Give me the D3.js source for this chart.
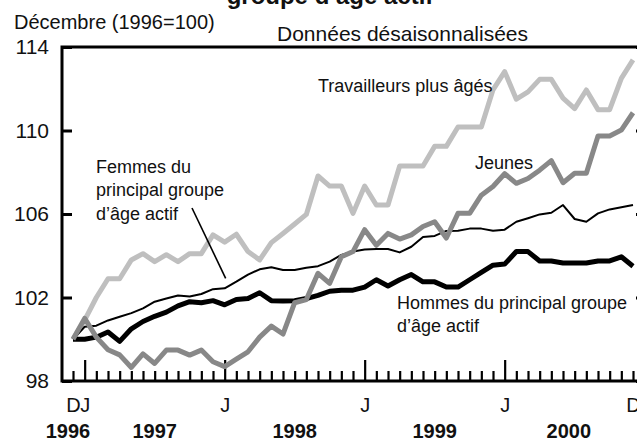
<!DOCTYPE html>
<html>
<head>
<meta charset="utf-8">
<script src="https://cdn.jsdelivr.net/npm/d3@7/dist/d3.min.js"></script>
<style>
  html, body { margin: 0; padding: 0; background: #fff; }
  svg { display: block; font-family: "Liberation Sans", Arial, sans-serif; }
</style>
</head>
<body>
<svg id="chart" width="637" height="441"></svg>
<script>
// indices, décembre 1996 = 100, données désaisonnalisées (déc. 1996 à déc. 2000)
const travailleurs = [100, 100.92, 102.0, 102.9, 102.9, 103.8, 104.1, 103.72, 104.05, 103.72, 104.1, 104.1, 105.0,
  104.65, 105.03, 104.2, 103.8, 104.63, 105.07, 105.52, 105.98, 107.82, 107.34, 107.34, 106.03,
  107.34, 106.43, 106.43, 108.3, 108.3, 108.3, 109.24, 109.24, 110.17, 110.17, 110.17, 111.95,
  112.82, 111.5, 111.85, 112.45, 112.45, 111.55, 111.05, 111.94, 111.0, 111.0, 112.5, 113.38]
const jeunes = [100, 101.0, 100.1, 99.5, 99.25, 98.65, 99.3, 98.84, 99.48, 99.48, 99.24, 99.48, 98.92,
  98.69, 99.05, 99.4, 100.1, 100.63, 100.25, 101.75, 101.9, 103.16, 102.68, 103.95, 104.2,
  105.25, 104.5, 105.07, 104.8, 105.0, 105.4, 105.63, 104.85, 106.03, 106.03, 106.9, 107.32,
  107.93, 107.47, 107.7, 108.1, 108.56, 107.5, 107.95, 107.95, 109.74, 109.74, 110.02, 110.85]
const femmes = [100.0, 100.6, 100.65, 100.9, 101.08, 101.25, 101.48, 101.8, 101.95, 102.1, 102.05, 102.17, 102.4,
  102.44, 102.76, 103.1, 103.35, 103.45, 103.32, 103.32, 103.43, 103.5, 103.72, 104.04, 104.2,
  104.3, 104.32, 104.32, 104.16, 104.43, 104.9, 104.95, 105.19, 105.2, 105.3, 105.3, 105.2,
  105.25, 105.63, 105.8, 105.98, 106.06, 106.43, 105.76, 105.63, 106.03, 106.22, 106.32, 106.43]
const hommes = [100.0, 100.0, 100.1, 100.35, 99.9, 100.5, 100.85, 101.1, 101.3, 101.6, 101.8, 101.75, 101.85,
  101.65, 101.9, 101.95, 102.23, 101.85, 101.83, 101.85, 101.95, 102.1, 102.3, 102.35, 102.35,
  102.5, 102.85, 102.55, 102.85, 103.1, 102.75, 102.75, 102.5, 102.5, 102.85, 103.2, 103.55,
  103.6, 104.2, 104.2, 103.75, 103.75, 103.65, 103.65, 103.65, 103.75, 103.75, 103.95, 103.5]

const months = d3.utcMonth.range(new Date(Date.UTC(1996, 11, 1)), new Date(Date.UTC(2001, 0, 1)))
const yTicks = [98, 102, 106, 110, 114]
const years = ['1996', '1997', '1998', '1999', '2000']

const svg = d3.select('#chart')
const plotL = 62, plotR = 646, plotT = 47, plotB = 381

const x = d3.scalePoint().domain(months.map(d => +d)).range([73, 633])
const y = d3.scaleLinear().domain([98, 114]).range([plotB, plotT])

// titres
svg.append('text').attr('x', 330).attr('y', 3.5).attr('text-anchor', 'middle')
  .attr('font-size', 24).attr('font-weight', 'bold').attr('fill', '#111')
  .text('groupe d\u2019âge actif')
svg.append('text').attr('x', 14).attr('y', 29).attr('font-size', 20).attr('fill', '#111')
  .text('Décembre (1996=100)')
svg.append('text').attr('x', 277).attr('y', 41).attr('font-size', 21).attr('fill', '#111')
  .text('Données désaisonnalisées')

// axe y : étiquettes et graduations intérieures
svg.append('g').attr('transform', `translate(${plotL},0)`)
  .call(d3.axisLeft(y).tickValues(yTicks).tickSize(0).tickPadding(13))
  .call(g => g.select('.domain').remove())
  .selectAll('text').attr('font-size', 21).attr('fill', '#111')
  .attr('font-family', '"Liberation Sans", Arial, sans-serif')
svg.append('g').attr('transform', `translate(${plotL},0)`)
  .call(d3.axisRight(y).tickValues(yTicks).tickSize(10).tickFormat(''))
  .call(g => g.select('.domain').remove())
  .selectAll('line').attr('stroke', '#000').attr('stroke-width', 3)
svg.append('g').attr('transform', `translate(${plotR},0)`)
  .call(d3.axisLeft(y).tickValues(yTicks).tickSize(10).tickFormat(''))
  .call(g => g.select('.domain').remove())
  .selectAll('line').attr('stroke', '#000').attr('stroke-width', 3)

// axe x : graduations mensuelles, janvier plus long
svg.append('g').attr('transform', `translate(0,${plotB})`)
  .call(d3.axisTop(x).tickSize(10).tickFormat(''))
  .call(g => g.select('.domain').remove())
  .selectAll('.tick line')
  .attr('stroke', '#000').attr('stroke-width', 2.2)
  .attr('y2', d => new Date(d).getUTCMonth() === 0 ? -21 : -10)

const labelMonths = months.filter((d, i) => i === 0 || i === months.length - 1 || d.getUTCMonth() === 0)
svg.append('g').attr('transform', `translate(0,${plotB})`)
  .call(d3.axisBottom(x).tickValues(labelMonths.map(d => +d)).tickSize(0).tickPadding(17)
    .tickFormat(d => new Date(d).getUTCMonth() === 0 ? 'J' : 'D'))
  .call(g => g.select('.domain').remove())
  .selectAll('text').attr('font-size', 20).attr('fill', '#111')
  .attr('font-family', '"Liberation Sans", Arial, sans-serif')

// années
const janIdx = months.map((d, i) => d.getUTCMonth() === 0 ? i : -1).filter(i => i >= 0)
svg.selectAll('text.year').data(years).enter().append('text')
  .attr('class', 'year')
  .attr('x', (d, i) => {
    if (i === 0) return x(+months[0]) - 5
    const a = x(+months[janIdx[i - 1]])
    const b = i < janIdx.length ? x(+months[janIdx[i]]) : x(+months[months.length - 1])
    return (a + b) / 2
  })
  .attr('y', 438).attr('text-anchor', 'middle')
  .attr('font-size', 20).attr('font-weight', 'bold').attr('fill', '#111')
  .text(d => d)

// séries
const line = d3.line().x((d, i) => x(+months[i])).y(d => y(d))
const series = [
  {data: travailleurs, color: '#bfbfbf', width: 5},
  {data: femmes, color: '#000', width: 2},
  {data: hommes, color: '#000', width: 5},
  {data: jeunes, color: '#888888', width: 5}
]
svg.selectAll('path.serie').data(series).enter().append('path')
  .attr('class', 'serie')
  .attr('d', d => line(d.data))
  .attr('fill', 'none')
  .attr('stroke', d => d.color)
  .attr('stroke-width', d => d.width)
  .attr('stroke-linejoin', 'round')

// cadre
svg.append('path')
  .attr('d', `M${plotR},${plotT}H${plotL}V${plotB}H${plotR}`)
  .attr('fill', 'none').attr('stroke', '#000').attr('stroke-width', 3)
svg.append('line').attr('x1', plotR).attr('x2', plotR).attr('y1', plotT).attr('y2', plotB)
  .attr('stroke', '#000').attr('stroke-width', 3)

// annotations
function label(lines, x0, y0) {
  const t = svg.append('text').attr('font-size', 18).attr('fill', '#111')
  lines.forEach((s, i) => t.append('tspan').attr('x', x0).attr('y', y0 + i * 23.3).text(s))
}
label(['Travailleurs plus âgés'], 318, 92)
label(['Jeunes'], 475, 169)
label(['Femmes du', 'principal groupe', 'd\u2019âge actif'], 96, 173)
label(['Hommes du principal groupe', 'd\u2019âge actif'], 397, 309)
svg.append('line')
  .attr('x1', 192).attr('y1', 208)
  .attr('x2', x(+months[13]) + 1).attr('y2', y(femmes[13]) - 10)
  .attr('stroke', '#000').attr('stroke-width', 1.6)
</script>
</body>
</html>
